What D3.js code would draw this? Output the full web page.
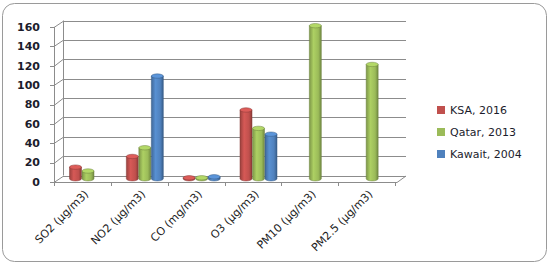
<!DOCTYPE html>
<html>
<head>
<meta charset="utf-8">
<script src="https://cdn.jsdelivr.net/npm/d3@7"></script>
<style>
  body { margin: 0; background: #fff; }
  svg { display: block; font-family: "DejaVu Sans", Verdana, sans-serif; }
</style>
</head>
<body>
<svg id="chart" width="552" height="266"></svg>
<script>
// categories and series
let categories = ["SO2 (μg/m3)", "NO2  (μg/m3)", "CO (mg/m3)", "O3 (μg/m3)", "PM10 (μg/m3)", "PM2.5 (μg/m3)"];
let seriesNames = ["KSA, 2016", "Qatar, 2013", "Kawait, 2004"];
let ksa = [12, 23, 1, 71, null, null];
let qatar = [8, 32, 1, 52, 158, 118];
let kuwait = [null, 106, 2, 46, null, null];
let yTicks = [0, 20, 40, 60, 80, 100, 120, 140, 160];
let colors = ["#C0504D", "#9BBB59", "#4F81BD"];
let series = [ksa, qatar, kuwait];

let svg = d3.select('#chart');
// depth of the 3d box
let dx = 9, dy = -6.5;

let x = d3.scaleBand().domain(categories).range([54, 395]);
let xs = d3.scaleBand().domain(seriesNames).range([15.5, 52.5]).paddingInner(0.04);
let y = d3.scaleLinear().domain([0, 160]).range([182, 27]);

// outer frame
svg.append('rect')
  .attr('x', 2.5).attr('y', 3.5).attr('width', 544).attr('height', 258)
  .attr('rx', 12).attr('fill', '#fff').attr('stroke', '#9a9a9a').attr('stroke-width', 1);

let grid = svg.append('g').attr('stroke', '#8c8c8c').attr('fill', 'none').attr('stroke-width', 1);

// gridlines: front-left to back, then across back wall
yTicks.forEach(t => {
  let yf = Math.round(y(t)) + 0.5;
  let yb = Math.round(y(t) + dy) + 0.5;
  grid.append('path')
    .attr('d', `M54,${yf}L${54 + dx},${yb}L406,${yb}`);
  grid.append('line').attr('x1', 50).attr('x2', 54).attr('y1', yf).attr('y2', yf);
});
// walls edges
grid.append('line').attr('x1', 54.5).attr('x2', 54.5).attr('y1', y(160)).attr('y2', y(0) + 4);
grid.append('line').attr('x1', 63.5).attr('x2', 63.5).attr('y1', y(160) + dy).attr('y2', y(0) + dy);
// floor
grid.append('path').attr('d', `M54,${y(0) + 0.5}L397,${y(0) + 0.5}L406,${y(0) + dy + 0.5}`);
// category ticks
x.domain().concat(['end']).forEach((c, i) => {
  let px = Math.round(54 + i * x.step()) + 0.5;
  grid.append('line').attr('x1', px).attr('x2', px).attr('y1', y(0)).attr('y2', y(0) + 4);
});

// gradients for cylinders
let defs = svg.append('defs');
colors.forEach((c, i) => {
  let g = defs.append('linearGradient').attr('id', 'g' + i).attr('x1', '0').attr('x2', '1').attr('y1', '0').attr('y2', '0');
  let base = d3.color(c);
  g.append('stop').attr('offset', '0%').attr('stop-color', base.darker(0.6));
  g.append('stop').attr('offset', '35%').attr('stop-color', base.brighter(0.3));
  g.append('stop').attr('offset', '75%').attr('stop-color', base);
  g.append('stop').attr('offset', '100%').attr('stop-color', base.darker(0.9));
});

// bars drawn at mid depth
let bars = svg.append('g');
series.forEach((vals, si) => {
  vals.forEach((v, ci) => {
    if (v == null) return;
    let x0 = x(categories[ci]) + xs(seriesNames[si]);
    let w = xs.bandwidth();
    let yb = y(0) + dy / 2;
    let yt = y(v) + dy / 2;
    let ry = 2.2;
    let gBar = bars.append('g');
    gBar.append('path')
      .attr('d', `M${x0},${yt}L${x0},${yb}A${w / 2},${ry} 0 0 0 ${x0 + w},${yb}L${x0 + w},${yt}Z`)
      .attr('fill', `url(#g${si})`)
      .attr('stroke', d3.color(colors[si]).darker(1)).attr('stroke-width', 0.5);
    gBar.append('ellipse')
      .attr('cx', x0 + w / 2).attr('cy', yt).attr('rx', w / 2).attr('ry', ry)
      .attr('fill', d3.color(colors[si]).brighter(0.4))
      .attr('stroke', d3.color(colors[si]).darker(1)).attr('stroke-width', 0.5);
  });
});

// y tick labels
svg.append('g').selectAll('text').data(yTicks).join('text')
  .attr('x', 40).attr('y', d => y(d)).attr('dy', '0.35em')
  .attr('text-anchor', 'end').attr('font-size', 11).attr('font-weight', 'bold')
  .attr('fill', '#1c1c2c').text(d => d);

// x category labels, rotated
svg.append('g').selectAll('text').data(categories).join('text')
  .attr('transform', d => `translate(${x(d) + x.bandwidth() / 2 + 4},${y(0) + 10}) rotate(-45)`)
  .attr('text-anchor', 'end').attr('dy', '0.35em')
  .attr('font-size', 11).attr('fill', '#1c1c1c').text(d => d);

// legend
let legend = svg.append('g').attr('transform', 'translate(437,110)');
seriesNames.forEach((n, i) => {
  let row = legend.append('g').attr('transform', `translate(0,${i * 22})`);
  row.append('rect').attr('x', 0).attr('y', -4).attr('width', 8).attr('height', 8).attr('fill', colors[i]);
  row.append('text').attr('x', 13).attr('y', 0).attr('dy', '0.35em')
    .attr('font-size', 11).attr('fill', '#1c1c2c').text(n);
});
</script>
</body>
</html>
